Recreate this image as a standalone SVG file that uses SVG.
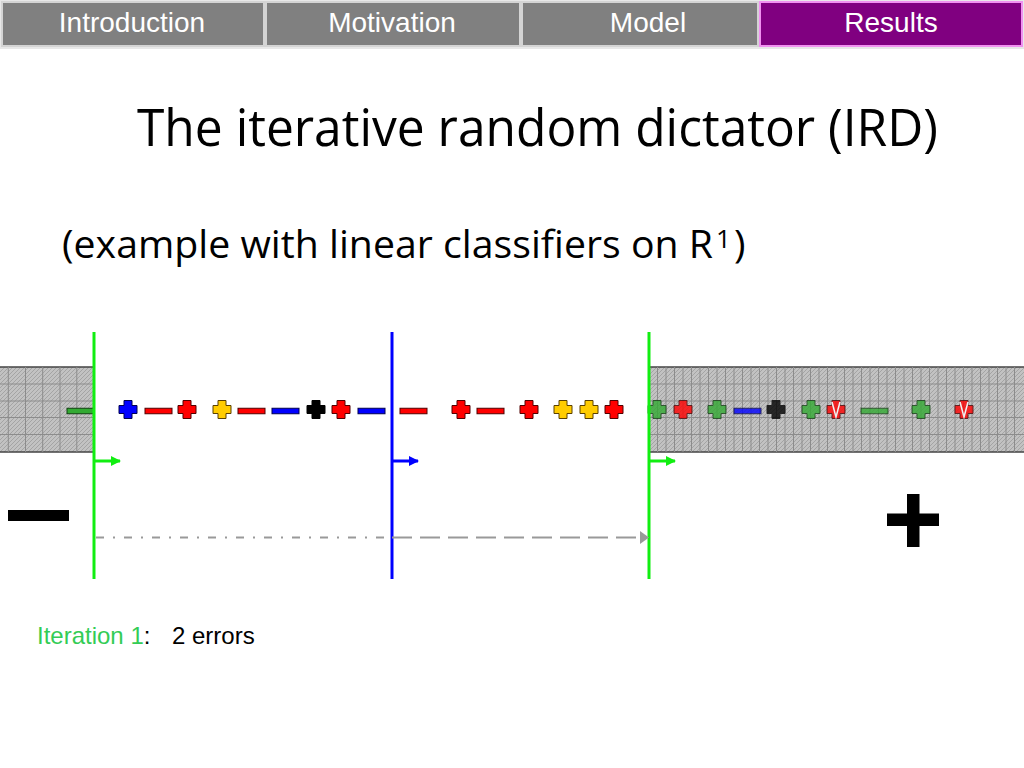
<svg xmlns="http://www.w3.org/2000/svg" width="1024" height="768" viewBox="0 0 1024 768">
<style>
.tab{fill:#808080;stroke:#d4d4d4;stroke-width:2}
.tabOn{fill:#800080;stroke:#f090f0;stroke-width:2}
.tabT{font-family:"Liberation Sans",Arial,sans-serif;font-size:28px;fill:#fff;text-anchor:middle}
.ttl{font-family:"Open Sans","Noto Sans",sans-serif;fill:#000}
.grid{stroke:#8c8c8c;stroke-width:1;fill:none}
.box{fill:url(#hatch);stroke:#444;stroke-width:1.5}
.cross{stroke-width:1}
.minus{stroke-width:1}
.r{fill:#ff0000;stroke:#500000}
.b{fill:#0000ff;stroke:#000050}
.y{fill:#ffcc00;stroke:#5a4000}
.k{fill:#000;stroke:#000}
.g{fill:#33aa33;stroke:#104010}
.vl{stroke-width:3;fill:none}
.bodyT{font-family:"Liberation Sans",Arial,sans-serif;font-size:24px}
</style>
<defs>
<pattern id="hatch" width="4" height="4" patternUnits="userSpaceOnUse">
<rect width="4" height="4" fill="#c2c2c2"/>
<path d="M-1,1 l2,-2 M0,4 l4,-4 M3,5 l2,-2" stroke="#a4a4a4" stroke-width="1"/>
</pattern>
<path id="plus" d="M-4,-9h8v5h5v8h-5v5h-8v-5h-5v-8h5z"/>
<rect id="minus" x="0" y="-2.75" width="27" height="5.5"/>
<marker id="ah" markerWidth="10" markerHeight="10" refX="9" refY="5" orient="auto" markerUnits="userSpaceOnUse">
<path d="M0,0L10,5L0,10z" fill="context-stroke"/>
</marker>
</defs>

<rect width="1024" height="768" fill="#fff"/>

<g id="nav">
<rect x="0" y="0" width="1024" height="49" fill="#e8e8e8"/>
<rect class="tab" x="2" y="2" width="262" height="44"/>
<rect class="tab" x="266" y="2" width="254" height="44"/>
<rect class="tab" x="522" y="2" width="236" height="44"/>
<rect class="tabOn" x="760" y="2" width="262" height="44"/>
<text class="tabT" x="132" y="32">Introduction</text>
<text class="tabT" x="392" y="32">Motivation</text>
<text class="tabT" x="648" y="32">Model</text>
<text class="tabT" x="891" y="32">Results</text>
</g>

<g id="title">
<text class="ttl" x="137" y="146" font-size="51" textLength="801" lengthAdjust="spacingAndGlyphs">The iterative random dictator (IRD)</text>
</g>
<g id="subtitle">
<text class="ttl" x="62" y="258" font-size="39" textLength="651" lengthAdjust="spacingAndGlyphs">(example with linear classifiers on R</text>
<text class="ttl" x="716" y="248" font-size="26">1</text>
<text class="ttl" x="734" y="258" font-size="39">)</text>
</g>

<g id="leftRegion">
<rect class="box" x="-1" y="367" width="95" height="85"/>
<path class="grid" d="M8.3,367V452M25.5,367V452M42.7,367V452M60,367V452M76.8,367V452M0,384H94M0,401H94M0,417.5H94M0,434.5H94"/>
</g>

<g id="rightRegion">
<rect class="box" x="649" y="367" width="376" height="85"/>
<path class="grid" d="M657.5,367V452M666,367V452M674.5,367V452M683,367V452M691.5,367V452M700,367V452M708.5,367V452M717,367V452M725.5,367V452M734,367V452M742.5,367V452M751,367V452M759.5,367V452M768,367V452M776.5,367V452M785,367V452M793.5,367V452M802,367V452M810.5,367V452M819,367V452M827.5,367V452M836,367V452M844.5,367V452M853,367V452M861.5,367V452M870,367V452M878.5,367V452M887,367V452M895.5,367V452M904,367V452M912.5,367V452M921,367V452M929.5,367V452M938,367V452M946.5,367V452M955,367V452M963.5,367V452M972,367V452M980.5,367V452M989,367V452M997.5,367V452M1006,367V452M1014.5,367V452M649,384H1024M649,401H1024M649,417.5H1024M649,434.5H1024"/>
</g>

<g id="points">
<use href="#minus" class="minus g" x="67" y="411"/>
<use href="#plus" class="cross b" x="128" y="409.5"/>
<use href="#minus" class="minus r" x="145" y="411"/>
<use href="#plus" class="cross r" x="187" y="409.5"/>
<use href="#plus" class="cross y" x="222" y="409.5"/>
<use href="#minus" class="minus r" x="238" y="411"/>
<use href="#minus" class="minus b" x="272" y="411"/>
<use href="#plus" class="cross k" x="316" y="409.5"/>
<use href="#plus" class="cross r" x="341" y="409.5"/>
<use href="#minus" class="minus b" x="358" y="411"/>
<use href="#minus" class="minus r" x="400" y="411"/>
<use href="#plus" class="cross r" x="461" y="409.5"/>
<use href="#minus" class="minus r" x="477" y="411"/>
<use href="#plus" class="cross r" x="529" y="409.5"/>
<use href="#plus" class="cross y" x="563" y="409.5"/>
<use href="#plus" class="cross y" x="589" y="409.5"/>
<use href="#plus" class="cross r" x="614" y="409.5"/>
<g opacity="0.8">
<use href="#plus" class="cross g" x="657" y="409.5"/>
<use href="#plus" class="cross r" x="683" y="409.5"/>
<use href="#plus" class="cross g" x="717" y="409.5"/>
<use href="#minus" class="minus b" x="734" y="411"/>
<use href="#plus" class="cross k" x="776" y="409.5"/>
<use href="#plus" class="cross g" x="811" y="409.5"/>
<use href="#plus" class="cross r" x="836" y="409.5"/>
<polyline points="832,402 836,417 840,402" fill="none" stroke="#fff" stroke-width="1.5"/>
<use href="#minus" class="minus g" x="861" y="411"/>
<use href="#plus" class="cross g" x="921" y="409.5"/>
<use href="#plus" class="cross r" x="964" y="409.5"/>
<polyline points="960,402 964,417 968,402" fill="none" stroke="#fff" stroke-width="1.5"/>
</g>
</g>

<g id="signs">
<rect x="8" y="510" width="61" height="11" fill="#000"/>
<rect x="887" y="513.5" width="52" height="12.5" fill="#000"/>
<rect x="907" y="494" width="12.5" height="53" fill="#000"/>
</g>

<g id="connectors">
<line class="vl" x1="94" y1="332" x2="94" y2="579" stroke="#11ee11"/>
<line class="vl" x1="392" y1="332" x2="392" y2="579" stroke="#0000ff"/>
<line class="vl" x1="649" y1="332" x2="649" y2="579" stroke="#11ee11"/>
<line x1="95" y1="461" x2="120" y2="461" stroke="#11ee11" stroke-width="3" marker-end="url(#ah)"/>
<line x1="393" y1="461" x2="418" y2="461" stroke="#0000ff" stroke-width="3" marker-end="url(#ah)"/>
<line x1="650" y1="461" x2="675" y2="461" stroke="#11ee11" stroke-width="3" marker-end="url(#ah)"/>
<line x1="96" y1="537.5" x2="392" y2="537.5" stroke="#999" stroke-width="2" stroke-dasharray="8 9 2 9"/>
<line x1="392" y1="537.5" x2="641" y2="537.5" stroke="#999" stroke-width="2" stroke-dasharray="20 8"/>
<path d="M640,531L649,537.5L640,544z" fill="#999"/>
</g>

<g id="caption">
<text class="bodyT" y="644"><tspan x="37" fill="#33cc55">Iteration 1</tspan><tspan fill="#000">:</tspan><tspan x="172" fill="#000">2 errors</tspan></text>
</g>
</svg>
